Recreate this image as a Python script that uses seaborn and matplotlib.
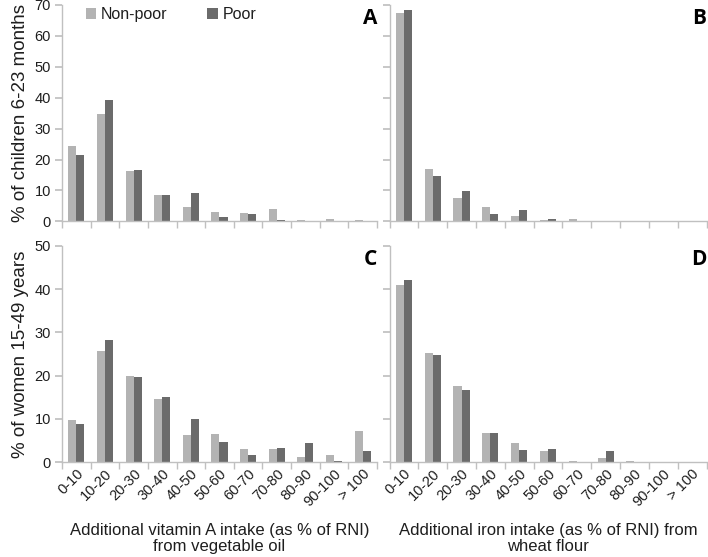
import matplotlib
matplotlib.use("Agg")
import matplotlib.pyplot as plt
import seaborn as sns
import pandas as pd
import numpy as np

categories = ["0-10", "10-20", "20-30", "30-40", "40-50", "50-60", "60-70",
              "70-80", "80-90", "90-100", "> 100"]
groups = ["Non-poor", "Poor"]

a_nonpoor = [24.3, 34.8, 16.2, 8.4, 4.5, 3.0, 2.6, 3.9, 0.4, 0.6, 0.4]
a_poor    = [21.5, 39.2, 16.6, 8.6, 9.0, 1.3, 2.4, 0.5, 0.1, 0.0, 0.0]
b_nonpoor = [67.5, 16.8, 7.5, 4.7, 1.7, 0.4, 0.6, 0.0, 0.0, 0.0, 0.0]
b_poor    = [68.4, 14.8, 9.7, 2.4, 3.7, 0.7, 0.0, 0.0, 0.0, 0.0, 0.0]
c_nonpoor = [9.8, 25.7, 20.0, 14.5, 6.4, 6.5, 3.1, 3.1, 1.2, 1.6, 7.2]
c_poor    = [8.9, 28.3, 19.7, 15.0, 10.0, 4.7, 1.7, 3.4, 4.5, 0.3, 2.5]
d_nonpoor = [40.9, 25.2, 17.6, 6.7, 4.4, 2.5, 0.2, 1.0, 0.4, 0.0, 0.0]
d_poor    = [42.1, 24.7, 16.7, 6.8, 2.8, 3.0, 0.0, 2.7, 0.0, 0.0, 0.0]

ylabel_top = "% of children 6-23 months"
ylabel_bot = "% of women 15-49 years"
xlabel_c = "Additional vitamin A intake (as % of RNI)\nfrom vegetable oil"
xlabel_d = "Additional iron intake (as % of RNI) from\nwheat flour"

sns.set_theme(style="white")
plt.rcParams["font.family"] = ["Liberation Sans", "DejaVu Sans"]

palette = {"Non-poor": "#b3b3b3", "Poor": "#6b6b6b"}
axis_color = "#c0c0c0"
text_color = "#1e1e1e"

W, H = 708, 557
fig = plt.figure(figsize=(W / 100, H / 100), dpi=100)


def make_df(nonpoor, poor):
    return pd.DataFrame({
        "cat": categories * 2,
        "grp": ["Non-poor"] * len(categories) + ["Poor"] * len(categories),
        "val": list(nonpoor) + list(poor),
    })


def px_axes(left, top, right, bottom):
    return fig.add_axes([left / W, 1 - bottom / H, (right - left) / W, (bottom - top) / H])


panels = [
    (px_axes(62, 5, 377, 221.3), a_nonpoor, a_poor, 70, "A", True, False),
    (px_axes(389.5, 5, 706.5, 221.3), b_nonpoor, b_poor, 70, "B", False, False),
    (px_axes(62, 245.7, 377, 462.3), c_nonpoor, c_poor, 50, "C", True, True),
    (px_axes(389.5, 245.7, 706.5, 462.3), d_nonpoor, d_poor, 50, "D", False, True),
]

for ax, npv, pv, ymax, letter, ylabels, xlabels in panels:
    df = make_df(npv, pv)
    sns.barplot(data=df, x="cat", y="val", hue="grp", order=categories,
                hue_order=groups, palette=palette, width=0.56, ax=ax,
                edgecolor="none", linewidth=0, legend=(letter == "A"))
    ax.set_xlim(-0.5, len(categories) - 0.5)
    ax.set_ylim(0, ymax)
    ax.set_yticks(np.arange(0, ymax + 1, 10))
    for s in ["top", "right"]:
        ax.spines[s].set_visible(False)
    for s in ["left", "bottom"]:
        ax.spines[s].set_color(axis_color)
        ax.spines[s].set_linewidth(1.0)
    ax.set_xticks(np.arange(-0.5, len(categories), 1.0), minor=True)
    ax.tick_params(axis="x", which="major", length=0, labelsize=10.5,
                   labelcolor=text_color, pad=3)
    ax.tick_params(axis="x", which="minor", length=5, color=axis_color,
                   direction="out", bottom=True)
    ax.tick_params(axis="y", length=5, color=axis_color, direction="out",
                   left=True, labelsize=10.5, labelcolor=text_color, pad=3)
    if xlabels:
        ax.set_xticks(range(len(categories)))
        ax.set_xticklabels(categories, rotation=45, ha="right",
                           rotation_mode="anchor")
    else:
        ax.set_xticklabels([])
    if not ylabels:
        ax.set_yticklabels([])
    ax.set_xlabel("")
    ax.set_ylabel("")
    ax.text(1.0, 0.985, letter, transform=ax.transAxes, ha="right", va="top",
            fontsize=15, fontweight="bold", family=["Open Sans", "DejaVu Sans"],
            color="black")
    if letter == "A":
        leg = ax.legend(loc="upper left", bbox_to_anchor=(0.055, 1.02), ncol=2,
                        frameon=False, fontsize=11.5, handlelength=0.65,
                        handleheight=0.65, handletextpad=0.3,
                        columnspacing=2.5, borderaxespad=0)
        for t in leg.get_texts():
            t.set_color(text_color)

axA, axB, axC, axD = [p[0] for p in panels]
axA.set_ylabel(ylabel_top, fontsize=13.5, color=text_color, labelpad=4)
axC.set_ylabel(ylabel_bot, fontsize=13.5, color=text_color, labelpad=4)
axC.set_xlabel(xlabel_c, fontsize=12, color=text_color, labelpad=10,
               linespacing=1.15)
axD.set_xlabel(xlabel_d, fontsize=12, color=text_color, labelpad=10,
               linespacing=1.15)

fig.savefig("out.png", dpi=100)
